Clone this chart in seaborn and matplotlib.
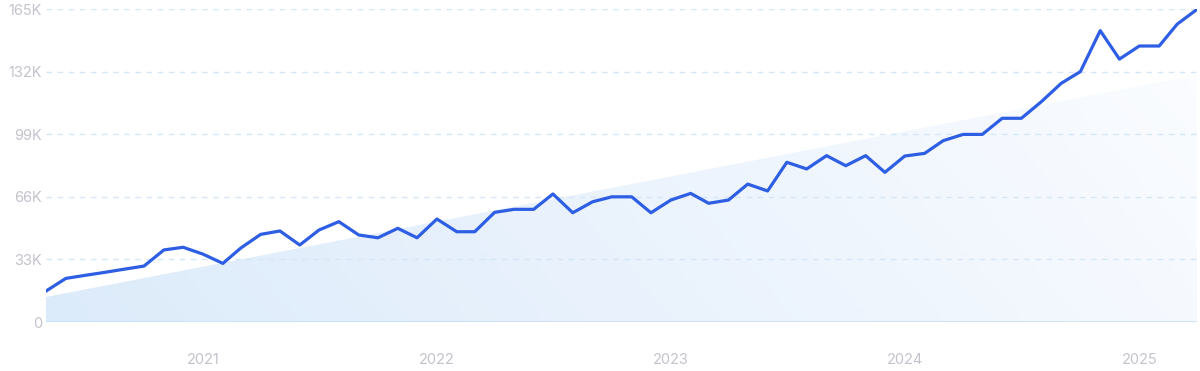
import matplotlib
matplotlib.use("Agg")
import matplotlib.pyplot as plt
import matplotlib.dates as mdates
from matplotlib.colors import LinearSegmentedColormap
from matplotlib.ticker import FixedLocator
import numpy as np
import pandas as pd
import seaborn as sns

# monthly values, May 2020 .. Apr 2025 (in thousands)
months = pd.date_range("2020-05-01", periods=60, freq="MS")
values_k = [
    16.3, 23.0, 24.6, 26.2, 27.9, 29.5, 38.0, 39.4,
    35.8, 30.9, 39.0, 46.2, 48.0, 40.6, 48.5, 52.9, 45.9, 44.4, 49.4, 44.4,
    54.3, 47.6, 47.6, 57.8, 59.4, 59.4, 67.5, 57.6, 63.4, 66.0, 66.0, 57.6,
    64.3, 67.8, 62.6, 64.3, 72.7, 69.1, 84.2, 80.7, 87.7, 82.4, 87.7, 78.9,
    87.5, 88.9, 95.6, 98.9, 98.9, 107.4, 107.4, 116.1, 125.8, 132.0, 153.6, 138.6,
    145.5, 145.5, 157.0, 164.8,
]
# trend line at first and last month (thousands)
trend_k = [13.2, 130.2]

y_ticks = [0, 33000, 66000, 99000, 132000, 165000]
y_labels = ["0", "33K", "66K", "99K", "132K", "165K"]
x_ticks = ["2021-01-01", "2022-01-01", "2023-01-01", "2024-01-01", "2025-01-01"]

df = pd.DataFrame({"month": months, "value": np.array(values_k) * 1000})

sns.set_style("white")
plt.rcParams["font.family"] = ["Inter", "DejaVu Sans"]

fig = plt.figure(figsize=(12, 3.71), dpi=100)
ax = fig.add_axes([0.0383, 0.132, 0.9592, 0.8437])

x0 = mdates.date2num(months[0])
x1 = mdates.date2num(months[-1])
ymax = 165000

# trend area with a soft gradient (clipped to the trend polygon)
trend_y = np.array(trend_k) * 1000
poly = ax.fill_between([months[0], months[-1]], [0, 0], trend_y,
                       color="none", lw=0)
cmap = LinearSegmentedColormap.from_list("fade", ["#dcebfa", "#ebf3fd", "#fafcff"])
gx, gy = np.meshgrid(np.linspace(0, 1, 300), np.linspace(0, 1, 100))
grad = np.clip(0.85 * gx + 0.2 * gy, 0, 1)
img = ax.imshow(grad, cmap=cmap, extent=[x0, x1, 0, ymax], origin="lower",
                aspect="auto", zorder=1, vmin=0, vmax=1)
img.set_clip_path(poly.get_paths()[0], transform=ax.transData)

# grid lines
for t in y_ticks[1:]:
    ax.axhline(t, color="#d5e6f8", lw=1.0, ls=(0, (4, 4)), zorder=2)
ax.axhline(0, color="#c8e0f8", lw=1.2, zorder=2)

sns.lineplot(data=df, x="month", y="value", ax=ax, color="#2d5ee3",
             lw=2.3, zorder=3, solid_capstyle="round", solid_joinstyle="round")

ax.set_xlim(months[0], months[-1])
ax.set_ylim(0, ymax)
ax.yaxis.set_major_locator(FixedLocator(y_ticks))
ax.set_yticklabels(y_labels)
ax.set_xticks(pd.to_datetime(x_ticks))
ax.xaxis.set_major_formatter(mdates.DateFormatter("%Y"))
ax.tick_params(axis="both", length=0, labelsize=10.5, colors="#c3c3cd")
ax.tick_params(axis="x", pad=22)
ax.tick_params(axis="y", pad=3)
ax.set_xlabel("")
ax.set_ylabel("")
for s in ax.spines.values():
    s.set_visible(False)

fig.savefig("out.png", dpi=100)
